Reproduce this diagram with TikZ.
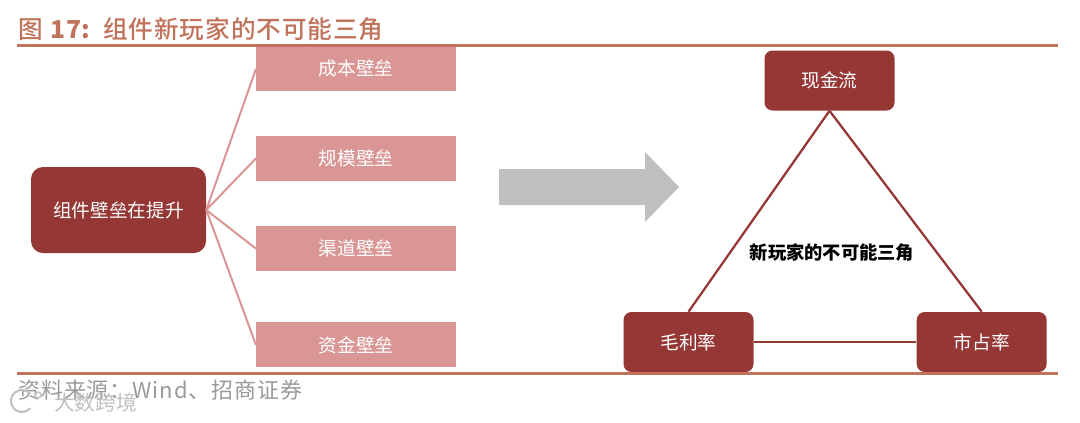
\documentclass[tikz,border=0pt]{standalone}
\usepackage{fontspec}
\setmainfont{Noto Sans CJK SC}
\newfontfamily\titlefont[LetterSpace=3.5,UprightFont=* Medium]{Noto Sans CJK SC}
\newfontfamily\sourcefont[LetterSpace=4]{Noto Sans CJK SC}
\usetikzlibrary{positioning}
\definecolor{darkred}{HTML}{953735}
\definecolor{palered}{HTML}{D99694}
\definecolor{rulecolor}{HTML}{C0735A}
\definecolor{arrowgray}{HTML}{BFBFBF}
\definecolor{sourcegray}{HTML}{9A9A9A}
\tikzset{
  barrierbox/.style={fill=palered, text=white, minimum width=150pt, minimum height=33.75pt, inner sep=0pt, font=\fontsize{14}{16}\selectfont},
  cornerbox/.style={fill=darkred, text=white, rounded corners=6pt, minimum width=97.5pt, minimum height=45pt, inner sep=0pt, font=\fontsize{14}{16}\selectfont},
  fanline/.style={draw=palered, line width=1.5pt},
  triline/.style={draw=darkred, line width=1.7pt}
}
\begin{document}
\begin{tikzpicture}[x=0.75pt, y=-0.75pt]
  \useasboundingbox (0,0) rectangle (1080,422);
  % header and footer
  \node[anchor=west, inner sep=0pt, text=rulecolor, font=\titlefont\fontsize{18.5}{22}\selectfont]
    (title) at (18,29) {图 \textbf{17:}\hspace{2.5pt} 组件新玩家的不可能三角};
  \coordinate (topleft) at (17,45);
  \coordinate (topright) at (1058,45);
  \coordinate (botleft) at (17,373);
  \coordinate (botright) at (1058,373);
  % left part
  \node[barrierbox, anchor=north west] (cost) at (256,46) {成本壁垒};
  \node[barrierbox, below=33pt of cost] (scale) {规模壁垒};
  \node[barrierbox, below=33.6pt of scale] (channel) {渠道壁垒};
  \node[barrierbox, below=38.1pt of channel] (fund) {资金壁垒};
  \node[fill=darkred, text=white, rounded corners=9pt, minimum width=131.25pt, minimum height=64.5pt, inner sep=0pt, font=\fontsize{14}{16}\selectfont]
    (rise) at (118.5,210) {组件壁垒在提升};
  \draw[fanline] (rise.east) -- (cost.west);
  \draw[fanline] (rise.east) -- (scale.west);
  \draw[fanline] (rise.east) -- (channel.west);
  \draw[fanline] (rise.east) -- (fund.west);
  % big arrow
  \fill[arrowgray] (499,169) -- (645,169) -- (645,152) -- (679,187) -- (645,222) -- (645,205) -- (499,205) -- cycle;
  % triangle
  \node[cornerbox] (cash) at (829.5,80.5) {现金流};
  \node[cornerbox] (margin) at (688.5,342) {毛利率};
  \node[cornerbox, right=122pt of margin] (share) {市占率};
  \node[inner sep=0pt, font=\fontsize{13.7}{16}\selectfont\bfseries] (label) at (832,253) {新玩家的不可能三角};
  \draw[triline] (cash.south) -- (margin.north);
  \draw[triline] (cash.south) -- (share.north);
  \draw[triline] (margin.east) -- (share.west);
  % rules drawn over the boxes
  \draw[rulecolor, line width=2.25pt] (topleft) -- (topright);
  \draw[rulecolor, line width=2.25pt] (botleft) -- (botright);
  % source and watermark
  \node[anchor=west, inner sep=0pt, text=sourcegray, font=\sourcefont\fontsize{16.5}{20}\selectfont]
    (source) at (18,390) {资料来源：Wind、招商证券};
  \node[anchor=west, inner sep=0pt, text=black!25, font=\fontsize{15.5}{18}\selectfont]
    (mark) at (54,403) {大数跨境};
  \draw[black!25, line width=1.5pt] (30.4,393.9) arc (-40:-320:11);
  \draw[black!25, line width=1pt] (38,395) circle (3);
\end{tikzpicture}
\end{document}
